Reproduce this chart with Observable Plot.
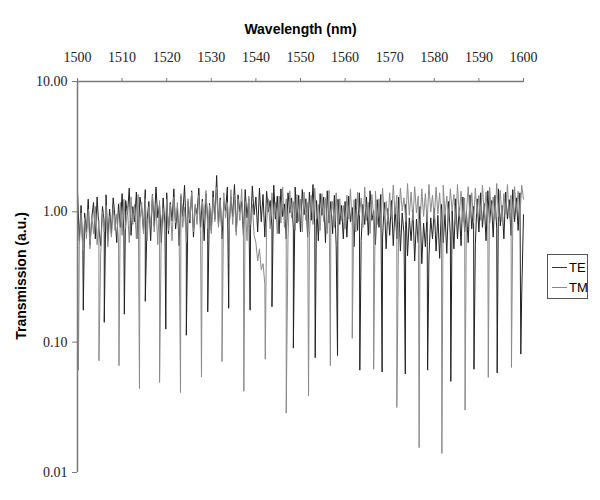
<!DOCTYPE html>
<html>
<head>
<meta charset="utf-8">
<script src="https://cdn.jsdelivr.net/npm/d3@7"></script>
<script src="https://cdn.jsdelivr.net/npm/@observablehq/plot@0.6"></script>
<style>
  html, body { margin: 0; padding: 0; background: #fff; }
  #wrap { position: relative; width: 600px; height: 500px; }
  #legend { position: absolute; left: 547px; top: 254px; width: 41px; height: 45px;
    border: 1px solid #555; background: #fff; font-family: "Liberation Sans", Arial, sans-serif;
    font-size: 13px; color: #000; box-sizing: border-box; }
  .li { position: absolute; left: 4px; height: 15px; line-height: 15px; display: flex; align-items: center; }
  .sw { width: 15px; height: 0; border-top: 1px solid; margin-right: 2px; }
  #ytitle { position: absolute; left: 21px; top: 276px; transform: translate(-50%, -50%) rotate(-90deg);
    white-space: nowrap; font-family: "Liberation Sans", Arial, sans-serif; font-weight: bold; font-size: 14px; color: #000; }
</style>
</head>
<body>
<div id="wrap">
  <div id="chart"></div>
  <div id="ytitle"></div>
  <div id="legend">
    <div class="li" style="top:5px"><span class="sw" style="border-color:#333"></span><span id="lg0"></span></div>
    <div class="li" style="top:25px"><span class="sw" style="border-color:#8a8a8a"></span><span id="lg1"></span></div>
  </div>
</div>
<script>
// ---- data ----
const xTitle = "Wavelength (nm)";
const yTitle = "Transmission (a.u.)";
const xTicks = [1500, 1510, 1520, 1530, 1540, 1550, 1560, 1570, 1580, 1590, 1600];
const yTicks = [0.01, 0.1, 1, 10];
const seriesNames = ["TE", "TM"];
const startWl = 1500;
const stepWl = 0.4; // baseline sampling step (nm)

// TE baseline transmission, 1500 → 1600 nm every 0.4 nm
const teBase = [
  1.45, 0.60, 1.12, 0.52, 0.98, 0.70, 1.25, 0.56, 0.90, 1.18, 0.62, 1.30, 0.74, 0.55, 1.10, 0.82, 1.35, 0.60, 1.05, 0.68, 1.28, 0.92, 0.58, 1.15, 0.76,
  1.38, 0.70, 1.22, 0.95, 1.52, 0.66, 1.10, 0.84, 1.42, 0.62, 1.30, 1.05, 0.72, 1.48, 0.86, 1.20, 0.60, 1.36, 0.78, 1.55, 0.90, 1.15, 0.58, 1.28, 0.80,
  1.40, 0.68, 1.18, 0.85, 1.50, 0.74, 1.06, 0.55, 1.32, 0.92, 1.60, 0.70, 1.20, 0.82, 1.45, 0.64, 1.12, 0.96, 1.52, 0.76, 1.25, 0.60, 1.38, 0.88, 1.16,
  0.72, 1.45, 0.88, 1.90, 0.80, 1.28, 0.62, 1.18, 1.02, 1.55, 0.76, 1.30, 0.92, 1.62, 0.70, 1.35, 1.00, 1.20, 0.66, 1.48, 0.90, 1.26, 0.74, 1.58, 0.95,
  1.30, 0.70, 1.52, 0.84, 1.36, 0.64, 1.44, 1.00, 1.22, 0.76, 1.60, 0.88, 1.32, 0.68, 1.50, 0.92, 1.15, 0.62, 1.40, 0.98, 1.28, 0.74, 1.55, 0.82, 1.34,
  0.70, 1.48, 0.95, 1.26, 0.64, 1.42, 0.86, 1.62, 0.78, 1.22, 0.60, 1.38, 0.94, 1.30, 0.58, 1.45, 0.82, 1.20, 0.68, 1.34, 0.55, 1.25, 0.80, 1.12, 0.62,
  1.20, 0.64, 1.32, 0.84, 1.08, 0.54, 1.26, 0.72, 1.40, 0.60, 1.14, 0.80, 1.30, 0.66, 1.45, 0.86, 1.02, 0.56, 1.24, 0.76, 1.36, 0.64, 1.18, 0.52, 1.06,
  0.66, 1.22, 0.55, 1.08, 0.62, 1.30, 0.50, 0.98, 0.68, 1.14, 0.46, 0.90, 0.60, 1.04, 0.42, 0.88, 0.58, 1.10, 0.40, 0.82, 0.54, 0.98, 0.45, 0.90, 0.62,
  1.06, 0.50, 0.94, 0.44, 1.14, 0.58, 0.96, 0.48, 1.20, 0.66, 1.02, 0.52, 1.26, 0.62, 1.08, 0.55, 1.30, 0.70, 1.00, 0.58, 1.35, 0.74, 1.10, 0.56, 1.26,
  0.70, 1.40, 0.76, 1.16, 0.60, 1.45, 0.82, 1.22, 0.64, 1.34, 0.74, 1.50, 0.78, 1.12, 0.62, 1.42, 0.88, 1.24, 0.66, 1.48, 0.84, 1.28, 0.72, 1.40, 0.23, 0.95
];

// TM baseline transmission, 1500 → 1600 nm every 0.4 nm
const tmBase = [
  1.15, 0.55, 0.98, 0.50, 0.90, 0.62, 1.05, 0.52, 0.94, 0.68, 1.10, 0.56, 0.86, 0.48, 1.00, 0.70, 1.12, 0.54, 0.92, 0.64, 1.06, 0.72, 0.96, 0.58, 1.18,
  0.66, 1.25, 0.74, 1.08, 0.58, 1.30, 0.80, 1.14, 0.62, 1.36, 0.84, 1.18, 0.68, 1.26, 0.60, 1.10, 0.78, 1.34, 0.70, 1.15, 0.56, 1.22, 0.82, 1.06, 0.66,
  1.25, 0.72, 1.14, 0.60, 1.30, 0.82, 1.18, 0.64, 1.38, 0.76, 1.08, 0.58, 1.26, 0.86, 1.42, 0.70, 1.15, 0.80, 1.34, 0.66, 1.20, 0.88, 1.46, 0.74, 1.12,
  0.68, 1.30, 0.84, 1.55, 0.76, 1.24, 0.62, 1.40, 0.90, 1.18, 0.72, 1.48, 0.80, 1.34, 0.66, 1.26, 0.86, 1.50, 0.74, 1.20, 0.60, 1.32, 0.80, 1.14, 0.66,
  0.58, 0.42, 0.52, 0.36, 0.40, 0.28, 0.82, 1.25, 0.74, 1.40, 0.88, 1.18, 0.68, 1.32, 0.82, 1.55, 0.76, 1.26, 0.64, 1.45, 0.90, 1.20, 0.72, 1.36, 0.84,
  1.25, 0.70, 1.42, 0.86, 1.18, 0.66, 1.34, 0.80, 1.52, 0.88, 1.14, 0.72, 1.38, 0.84, 1.28, 0.68, 1.46, 0.92, 1.20, 0.76, 1.40, 0.66, 1.26, 0.86, 1.12,
  0.74, 1.34, 0.88, 1.50, 0.78, 1.24, 0.70, 1.42, 0.94, 1.28, 0.76, 1.55, 0.86, 1.18, 0.68, 1.36, 0.90, 1.44, 0.80, 1.26, 0.72, 1.52, 0.92, 1.20, 0.84,
  1.40, 0.88, 1.60, 0.96, 1.34, 0.80, 1.52, 1.02, 1.28, 0.84, 1.65, 0.94, 1.42, 0.86, 1.56, 0.98, 1.32, 0.80, 1.50, 0.92, 1.38, 0.84, 1.62, 1.00, 1.34,
  0.88, 1.55, 0.96, 1.40, 0.82, 1.60, 0.94, 1.32, 0.86, 1.50, 1.02, 1.36, 0.80, 1.62, 0.92, 1.44, 0.84, 1.28, 0.98, 1.56, 0.90, 1.40, 0.82, 1.52, 0.96,
  1.34, 0.86, 1.60, 0.94, 1.42, 0.82, 1.55, 1.00, 1.30, 0.88, 1.65, 0.92, 1.46, 0.84, 1.38, 0.96, 1.62, 0.90, 1.34, 0.86, 1.56, 0.98, 1.44, 0.92, 1.60, 1.25
];

// Resonance dips (wavelength nm, minimum transmission)
const teDipWl  = [1501.3, 1506.0, 1510.5, 1515.2, 1519.8, 1524.4, 1529.2, 1533.9, 1538.7, 1543.6, 1548.4, 1553.3, 1558.3, 1563.3, 1568.3, 1573.5, 1578.5, 1583.7, 1588.9, 1594.1, 1599.4];
const teDipVal = [0.176, 0.142, 0.164, 0.206, 0.126, 0.113, 0.171, 0.182, 0.176, 0.187, 0.090, 0.076, 0.079, 0.061, 0.059, 0.057, 0.061, 0.050, 0.062, 0.058, 0.081];
const tmDipWl  = [1500.2, 1504.8, 1509.3, 1513.9, 1518.4, 1523.1, 1527.8, 1532.4, 1537.3, 1542.1, 1546.8, 1551.8, 1556.7, 1561.6, 1566.4, 1571.6, 1576.6, 1581.7, 1586.9, 1592.1, 1597.3];
const tmDipVal = [0.061, 0.072, 0.066, 0.044, 0.049, 0.041, 0.054, 0.071, 0.042, 0.074, 0.0286, 0.0386, 0.066, 0.107, 0.062, 0.0316, 0.0155, 0.0140, 0.0301, 0.0537, 0.064];

// ---- table for the library ----
function buildSeries(base, dipWl, dipVal, name) {
  const pts = base.map((v, i) => ({ wl: startWl + i * stepWl, v, series: name }));
  dipWl.forEach((w, i) => pts.push({ wl: w, v: dipVal[i], series: name }));
  return pts.sort((a, b) => a.wl - b.wl);
}
const teData = buildSeries(teBase, teDipWl, teDipVal, seriesNames[0]);
const tmData = buildSeries(tmBase, tmDipWl, tmDipVal, seriesNames[1]);

document.getElementById("ytitle").textContent = yTitle;
document.getElementById("lg0").textContent = seriesNames[0];
document.getElementById("lg1").textContent = seriesNames[1];

const axisColor = "#7a7a7a";
const chart = Plot.plot({
  width: 600,
  height: 500,
  marginTop: 81,
  marginLeft: 77,
  marginRight: 77,
  marginBottom: 28,
  style: { fontFamily: "'Liberation Serif', 'Times New Roman', serif", fontSize: "14px", color: "#222", background: "#fff" },
  x: { domain: [1500, 1600] },
  y: { type: "log", domain: [0.01, 10] },
  marks: [
    Plot.line(teData, { x: "wl", y: "v", stroke: "#222", strokeWidth: 1 }),
    Plot.line(tmData, { x: "wl", y: "v", stroke: "#8a8a8a", strokeWidth: 1 }),
    Plot.axisX({ anchor: "top", ticks: xTicks, tickSize: 4, tickPadding: 16, label: null, stroke: axisColor, tickFormat: d => String(d) }),
    Plot.axisY({ anchor: "left", ticks: yTicks, tickSize: 5, tickPadding: 5, label: null, stroke: axisColor, tickFormat: d => d.toFixed(2) }),
    Plot.ruleY([10], { stroke: axisColor, strokeWidth: 1.5 }),
    Plot.ruleX([1500], { stroke: axisColor, strokeWidth: 1.5 }),
    Plot.text([xTitle], { frameAnchor: "top", dy: -57, text: d => d, fontFamily: "'Liberation Sans', Arial, sans-serif", fontWeight: "bold", fontSize: 14, fill: "#000" })
  ]
});
document.getElementById("chart").appendChild(chart);
</script>
</body>
</html>
